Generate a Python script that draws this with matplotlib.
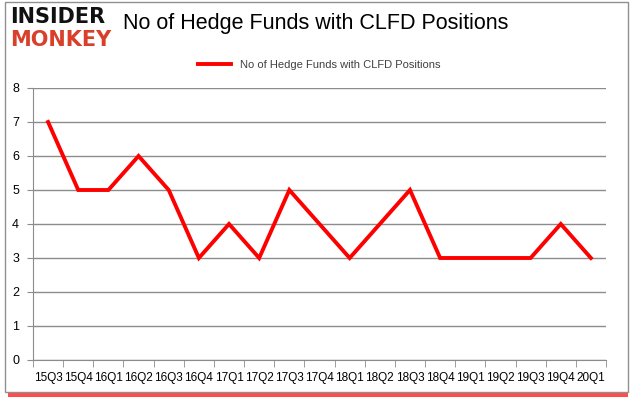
import matplotlib
matplotlib.use("Agg")
import matplotlib.pyplot as plt
from matplotlib.patches import Rectangle

quarters = ["15Q3", "15Q4", "16Q1", "16Q2", "16Q3", "16Q4", "17Q1", "17Q2", "17Q3", "17Q4",
            "18Q1", "18Q2", "18Q3", "18Q4", "19Q1", "19Q2", "19Q3", "19Q4", "20Q1"]
funds = [7, 5, 5, 6, 5, 3, 4, 3, 5, 4, 3, 4, 5, 3, 3, 3, 3, 4, 3]

font = "Liberation Sans"
red = "#ff0000"

fig = plt.figure(figsize=(6.35, 4.05), dpi=100, facecolor="white")

# frame with red shadow
fig.patches.append(Rectangle((8 / 635, 8 / 405), 620 / 635, 8 / 405, transform=fig.transFigure,
                             facecolor="#ff2020", edgecolor="none", alpha=0.8, zorder=0))
fig.patches.append(Rectangle((5 / 635, 13 / 405), 623 / 635, 390 / 405, transform=fig.transFigure,
                             facecolor="white", edgecolor="#909090", linewidth=1, zorder=1))

ax = fig.add_axes([33 / 635, 45 / 405, 573 / 635, 272 / 405])
ax.set_zorder(5)
ax.set_facecolor("none")
x = list(range(len(quarters)))
ax.plot(x, funds, color=red, linewidth=2.8, solid_joinstyle="miter", zorder=3,
        label="No of Hedge Funds with CLFD Positions")

ax.set_xlim(-0.5, len(quarters) - 0.5)
ax.set_ylim(0, 8)
ax.set_yticks(range(0, 9))
ax.yaxis.grid(True, color="#8c8c8c", linewidth=1)
ax.set_axisbelow(True)
ax.set_xticks(x)
ax.set_xticklabels(quarters, fontsize=8.5, fontfamily=font)
ax.set_xticks([i - 0.5 for i in range(len(quarters) + 1)], minor=True)
ax.tick_params(axis="x", which="major", length=0, pad=9)
ax.tick_params(axis="x", which="minor", length=5, color="#8c8c8c", direction="out")
ax.tick_params(axis="y", length=4, color="#8c8c8c", labelsize=9, pad=6)
for lab in ax.get_yticklabels():
    lab.set_fontfamily(font)
for s in ["top", "right"]:
    ax.spines[s].set_visible(False)
for s in ["left", "bottom"]:
    ax.spines[s].set_color("#8c8c8c")

leg = ax.legend(loc="lower center", bbox_to_anchor=(0.5, 1.03), frameon=False,
                prop={"family": font, "size": 8}, handlelength=3)
for t in leg.get_texts():
    t.set_color("#404040")

fig.text(123 / 635, 1 - 24 / 405, "No of Hedge Funds with CLFD Positions", fontsize=15.5,
         fontfamily=font, va="center", ha="left", color="black", zorder=6)
fig.text(10 / 635, 1 - 17 / 405, "INSIDER", fontsize=15, fontweight="heavy",
         fontfamily="DejaVu Sans", va="center", ha="left", color="#111111", zorder=6)
fig.text(10 / 635, 1 - 40 / 405, "MONKEY", fontsize=15, fontweight="heavy",
         fontfamily="DejaVu Sans", va="center", ha="left", color="#d9402b", zorder=6)

fig.savefig("out.png", dpi=100, facecolor="white")
